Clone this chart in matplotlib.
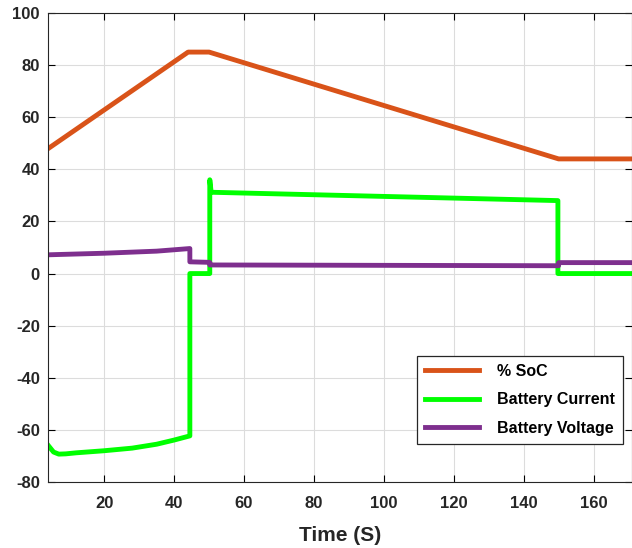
import numpy as np
import matplotlib
matplotlib.use('Agg')
import matplotlib.pyplot as plt

plt.rcParams['font.family'] = ['Liberation Sans', 'DejaVu Sans']
plt.rcParams['axes.unicode_minus'] = False

# % SoC
soc_t = [4, 44, 50, 150, 171]
soc_v = [48, 85, 85, 44, 44]

# Battery Current
cur_t = [4, 5.5, 7, 9, 12, 20, 28, 35, 40, 44.5, 44.5, 50.2, 50.2, 50.6, 149.8, 149.8, 171]
cur_v = [-66, -68.5, -69.3, -69.2, -68.8, -68, -67, -65.5, -63.9, -62.3, 0, 0, 36, 31.2, 28, 0, 0]

# Battery Voltage
volt_t = [4, 20, 35, 44.5, 44.5, 50.2, 50.2, 150, 150, 171]
volt_v = [7.2, 7.8, 8.6, 9.6, 4.5, 4.3, 3.3, 3.0, 4.2, 4.2]

fig = plt.figure(figsize=(6.32, 5.48), dpi=100)
ax = fig.add_axes([48.3/632, 66/548, 1 - 48.3/632, 469/548])

ax.plot(soc_t, soc_v, color='#D95319', lw=3.5, label='% SoC', solid_joinstyle='round')
ax.plot(cur_t, cur_v, color='#00FF00', lw=3.5, label='Battery Current', solid_joinstyle='round')
ax.plot(volt_t, volt_v, color='#7E2F8E', lw=3.5, label='Battery Voltage', solid_joinstyle='round')

ax.set_xlim(4, 171)
ax.set_ylim(-80, 100)
ax.set_xticks(range(20, 161, 20))
ax.set_yticks(range(-80, 101, 20))
ax.grid(True, color='#dcdcdc', lw=0.8)
ax.tick_params(direction='in', top=True, right=True, length=5, labelsize=12)
ax.tick_params(axis='x', pad=10)
ax.tick_params(axis='y', pad=6)
for lab in ax.get_xticklabels() + ax.get_yticklabels():
    lab.set_fontweight('bold')
    lab.set_color('#262626')
for s in ax.spines.values():
    s.set_color('#262626')

ax.set_xlabel('Time (S)', fontsize=15, fontweight='bold', color='#262626', labelpad=11)

leg = ax.legend(loc='lower left', bbox_to_anchor=(417/632, 104/548), bbox_transform=fig.transFigure,
                borderaxespad=0, fancybox=False, edgecolor='#262626', framealpha=1,
                handlelength=3.4, handletextpad=1.1, labelspacing=0.85, borderpad=0.5,
                prop={'weight': 'bold', 'size': 11.5})
leg.get_frame().set_linewidth(0.9)

fig.savefig('out.png', dpi=100)
